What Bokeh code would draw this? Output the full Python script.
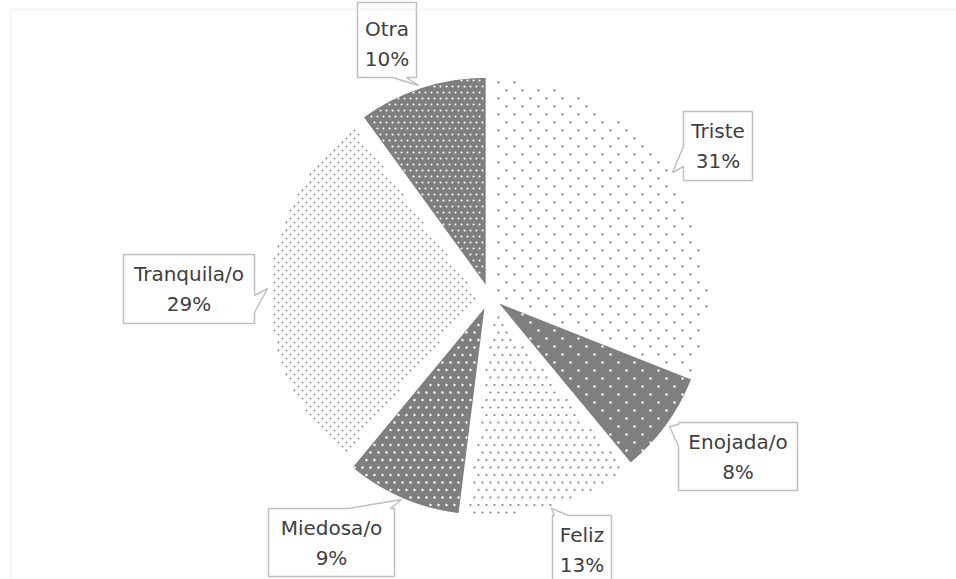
import numpy as np
from bokeh.plotting import figure
from bokeh.models import Range1d, BoxAnnotation
from bokeh.core.properties import value
from bokeh.embed import file_html
from bokeh.resources import INLINE

# ---- data ----
categories = ["Triste", "Enojada/o", "Feliz", "Miedosa/o", "Tranquila/o", "Otra"]
percent = [31, 8, 13, 9, 29, 10]

# ---- layout / styles (screen pixels, y measured from the top) ----
W, H = 956, 579
def Y(sy):
    return H - sy

CX, CY = 489, 296
radius = [219, 210, 210, 210, 210, 210]
explode = [0, 9, 10, 10, 10, 10]
fills = ["white", "#7f7f7f", "white", "#7f7f7f", "white", "#7f7f7f"]
# dot texture: (column spacing, row spacing, row stagger, dot size, colour)
texture = [
    (16, 8, 8, 2.3, "#858585"),
    (16, 8, 8, 2.4, "white"),
    (8, 7.5, 4, 2.2, "#858585"),
    (8, 7.5, 4, 2.4, "white"),
    (8, 4, 4, 2.0, "#888888"),
    (6, 6, 3, 2.1, "white"),
]
# callout boxes: (x0, y0, x1, y1, tail side, tail a, tail b, tip x, tip y)
callouts = [
    (683, 111, 752, 180, "left", 146, 166, 672, 172),
    (678, 422, 797, 490, "left", 424, 446, 669, 426),
    (552, 515, 611, 600, "top", 554, 568, 551, 508),
    (268, 508, 394, 576, "top", 348, 390, 401, 499),
    (123, 254, 254, 323, "right", 295, 312, 267, 288),
    (357, 2, 416, 77, "bottom", 392, 406, 418, 85),
]
FONT = value("DejaVu Sans")
FONT_SIZE = "20px"
TEXT_COLOR = "#404040"

p = figure(width=W, height=H, output_backend="svg", toolbar_location=None,
           x_range=Range1d(0, W), y_range=Range1d(0, H),
           x_axis_type=None, y_axis_type=None, min_border=0)
p.grid.visible = False
p.outline_line_color = None
p.background_fill_color = "white"
p.border_fill_color = "white"

# chart area border
p.add_layout(BoxAnnotation(left=10.3, right=1200, top=Y(9), bottom=-200,
                           fill_alpha=0, line_color="#d9d9d9", line_width=2))

vals = np.array(percent, dtype=float)
cum = np.cumsum(vals) / vals.sum() * 2 * np.pi      # clockwise from 12 o'clock
prev = np.concatenate([[0.0], cum[:-1]])

for i in range(len(categories)):
    th0, th1 = prev[i], cum[i]
    thm = (th0 + th1) / 2
    tx = CX + explode[i] * np.sin(thm)          # screen coords of slice tip
    ty = CY - explode[i] * np.cos(thm)
    r = radius[i]
    p.wedge(x=[tx], y=[Y(ty)], radius=r, radius_units="screen",
            start_angle=[np.pi / 2 - th0], end_angle=[np.pi / 2 - th1],
            direction="clock", fill_color=fills[i],
            line_color="white", line_width=1.5)

    # dotted fill pattern, anchored to a page grid, kept inside the slice
    cs, rs, st, sz, col = texture[i]
    rows = np.arange(0, H + rs, rs)
    gx, gy = [], []
    for k, yy in enumerate(rows):
        off = (k % 2) * st
        xs = np.arange(off + 2, W, cs)
        gx.append(xs)
        gy.append(np.full(xs.shape, yy + 2))
    gx = np.concatenate(gx)
    gy = np.concatenate(gy)
    dx, dy = gx - tx, gy - ty
    rho = np.hypot(dx, dy)
    th = np.mod(np.arctan2(dx, -dy), 2 * np.pi)
    m = 2.0 / np.maximum(rho, 1)
    keep = (rho < r - 1.5) & (th > th0 + m) & (th < th1 - m)
    p.scatter(gx[keep], Y(gy[keep]), size=sz, marker="circle",
              fill_color=col, line_color=None)


def callout_poly(x0, y0, x1, y1, side, a, b, tx, ty):
    pts = [(x0, y0)]
    if side == "top":
        pts += [(a, y0), (tx, ty), (b, y0)]
    pts += [(x1, y0)]
    if side == "right":
        pts += [(x1, a), (tx, ty), (x1, b)]
    pts += [(x1, y1)]
    if side == "bottom":
        pts += [(b, y1), (tx, ty), (a, y1)]
    pts += [(x0, y1)]
    if side == "left":
        pts += [(x0, b), (tx, ty), (x0, a)]
    return [q[0] for q in pts], [Y(q[1]) for q in pts]


for i, c in enumerate(callouts):
    x0, y0, x1, y1 = c[:4]
    xs, ys = callout_poly(*c)
    p.patch(xs, ys, fill_color="white", line_color="#bfbfbf", line_width=1.5)
    xc = (x0 + x1) / 2
    ytop = max(y0, 9)
    p.text(x=[xc], y=[Y(ytop + 19)], text=[categories[i]], text_font=FONT,
           text_font_size=FONT_SIZE, text_color=TEXT_COLOR, text_align="center",
           text_baseline="middle")
    p.text(x=[xc], y=[Y(ytop + 49)], text=[f"{percent[i]}%"], text_font=FONT,
           text_font_size=FONT_SIZE, text_color=TEXT_COLOR, text_align="center",
           text_baseline="middle")

open("out.html", "w").write(file_html(p, INLINE))
